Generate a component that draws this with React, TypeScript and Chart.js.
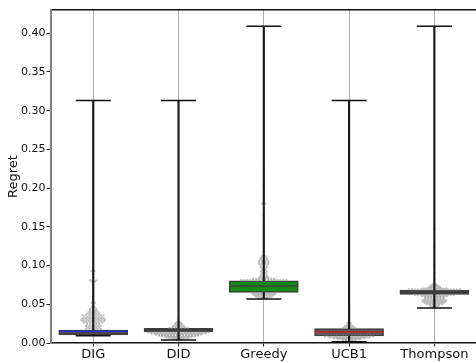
import React, { useEffect, useRef } from 'react';
import { Chart, registerables } from 'chart.js';

Chart.register(...registerables);

const categories = ['DIG', 'DID', 'Greedy', 'UCB1', 'Thompson'];
const whiskerMin = [0.0095, 0.0039, 0.0568, 0.0015, 0.0452];
const q1 = [0.0105, 0.0142, 0.0654, 0.009, 0.0628];
const median = [0.0152, 0.0165, 0.0735, 0.0142, 0.0655];
const q3 = [0.0168, 0.019, 0.0804, 0.0185, 0.0684];
const whiskerMax = [0.313, 0.313, 0.409, 0.313, 0.409];
const boxColors = ['#4a4a4a', '#3c3c3c', '#138a13', '#5a5a5a', '#333333'];
const medianColors = ['#2b2bd0', '#3f3f3f', '#3f3f3f', '#d02020', '#3f3f3f'];
const yTicks = [0, 0.05, 0.1, 0.15, 0.2, 0.25, 0.3, 0.35, 0.4];

// swarm distributions: [value, number of points at that value]
const swarmDIG: [number, number][] = [
  [0.018, 6], [0.02, 5], [0.022, 6], [0.024, 5], [0.026, 7], [0.028, 8], [0.03, 9], [0.032, 8],
  [0.034, 7], [0.036, 8], [0.038, 5], [0.04, 4], [0.042, 3], [0.044, 3], [0.046, 2], [0.049, 1],
  [0.052, 2], [0.056, 1], [0.06, 1], [0.064, 1], [0.068, 1], [0.072, 1], [0.076, 1], [0.079, 2],
  [0.081, 3], [0.085, 1], [0.089, 1], [0.093, 2], [0.098, 1], [0.104, 1], [0.23, 1],
];
const swarmDID: [number, number][] = [
  [0.0135, 21], [0.0122, 19], [0.011, 16], [0.0098, 14], [0.0086, 12], [0.0074, 9], [0.0062, 7],
  [0.005, 4], [0.0042, 2], [0.0195, 7], [0.021, 5], [0.0225, 4], [0.024, 3], [0.0255, 3],
  [0.027, 2], [0.0285, 1], [0.03, 1],
];
const swarmGreedy: [number, number][] = [
  [0.0645, 9], [0.063, 8], [0.0615, 7], [0.06, 6], [0.0585, 5], [0.0575, 3],
  [0.0815, 16], [0.083, 8], [0.0845, 4], [0.086, 3], [0.088, 3], [0.09, 2], [0.092, 3], [0.094, 2],
  [0.096, 2], [0.098, 3], [0.1, 3], [0.102, 4], [0.104, 4], [0.106, 4], [0.108, 3], [0.11, 3],
  [0.112, 2], [0.115, 1], [0.118, 1], [0.122, 1], [0.126, 1], [0.13, 1], [0.135, 1], [0.14, 1],
  [0.147, 1], [0.155, 1], [0.165, 1], [0.18, 2], [0.205, 1], [0.23, 1],
];
const swarmUCB1: [number, number][] = [
  [0.0085, 17], [0.0073, 14], [0.0061, 11], [0.005, 8], [0.004, 5], [0.003, 3],
  [0.0195, 5], [0.021, 4], [0.0225, 3], [0.024, 2], [0.026, 2], [0.029, 1], [0.032, 1],
  [0.036, 1], [0.041, 1], [0.047, 1], [0.055, 1],
];
const swarmThompson: [number, number][] = [
  [0.0692, 18], [0.0705, 9], [0.0718, 5], [0.073, 4], [0.0745, 3], [0.076, 2], [0.078, 1],
  [0.082, 1], [0.09, 1], [0.1, 1], [0.123, 1], [0.147, 1],
  [0.062, 14], [0.0605, 9], [0.059, 7], [0.0575, 7], [0.056, 8], [0.0545, 9], [0.053, 8],
  [0.0515, 7], [0.05, 6], [0.0485, 4], [0.047, 3], [0.046, 2],
];
const swarms = [swarmDIG, swarmDID, swarmGreedy, swarmUCB1, swarmThompson];

const SWARM_STEP = 0.0352; // horizontal spacing of swarm points, in category units

function expandSwarm(bins: [number, number][], idx: number) {
  const pts: { x: number; y: number }[] = [];
  bins.forEach(([v, n]) => {
    for (let k = 0; k < n; k++) {
      pts.push({ x: idx + (k - (n - 1) / 2) * SWARM_STEP, y: v });
    }
  });
  return pts;
}

const FONT = 'DejaVu Sans';

export default function App() {
  const ref = useRef<HTMLCanvasElement>(null);
  useEffect(() => {
    if (!ref.current) return;
    const swarmPoints = swarms.flatMap((b, i) => expandSwarm(b, i));
    const chart = new Chart(ref.current, {
      type: 'scatter',
      data: {
        datasets: [
          {
            type: 'bar',
            data: categories.map((_, i) => ({ x: i, y: [q3[i], whiskerMax[i]] })) as any,
            backgroundColor: '#1a1a1a',
            barThickness: 1.5,
            grouped: false,
            order: 3,
          } as any,
          {
            type: 'bar',
            data: categories.map((_, i) => ({ x: i, y: [whiskerMin[i], q1[i]] })) as any,
            backgroundColor: '#1a1a1a',
            barThickness: 1.5,
            grouped: false,
            order: 3,
          } as any,
          {
            type: 'bar',
            data: categories.map((_, i) => ({ x: i, y: [q1[i], q3[i]] })) as any,
            backgroundColor: boxColors,
            borderColor: '#3f3f3f',
            borderWidth: 1.5,
            borderSkipped: false,
            barThickness: 69,
            grouped: false,
            order: 6,
          } as any,
          {
            type: 'scatter',
            data: swarmPoints,
            pointRadius: 1.2,
            pointBackgroundColor: 'rgba(150,150,150,0.55)',
            pointBorderWidth: 0,
            order: 5,
          },
          {
            type: 'scatter',
            data: categories.map((_, i) => ({ x: i, y: median[i] })),
            pointStyle: 'line',
            pointRadius: 34,
            pointBorderColor: medianColors,
            pointBorderWidth: 1.5,
            order: 4,
          },
          {
            type: 'scatter',
            data: [
              ...categories.map((_, i) => ({ x: i, y: whiskerMax[i] })),
              ...categories.map((_, i) => ({ x: i, y: whiskerMin[i] })),
            ],
            pointStyle: 'line',
            pointRadius: 17.5,
            pointBorderColor: '#111111',
            pointBorderWidth: 1.5,
            order: 1,
          },
        ],
      },
      options: {
        animation: false,
        responsive: false,
        events: [],
        layout: { autoPadding: false, padding: { top: 10, right: 3, bottom: 0, left: 0 } },
        plugins: { legend: { display: false }, tooltip: { enabled: false } },
        scales: {
          x: {
            type: 'linear',
            min: -0.5,
            max: 4.5,
            offset: false,
            afterFit: (s: any) => { s.height = 20; },
            afterBuildTicks: (s: any) => { s.ticks = categories.map((_, i) => ({ value: i })); },
            ticks: {
              autoSkip: false,
              maxRotation: 0,
              padding: 0,
              color: '#111',
              font: { family: FONT, size: 13 },
              callback: (v: any) => categories[Math.round(v)] ?? '',
            },
            grid: {
              offset: false,
              color: '#b0b0b0',
              tickColor: '#222',
              tickLength: 3.5,
              lineWidth: 1,
            },
            border: { color: '#111', width: 1.5 },
          },
          xTop: {
            type: 'linear',
            position: 'top',
            min: -0.5,
            max: 4.5,
            afterFit: (s: any) => { s.height = 0; },
            ticks: { display: false },
            grid: { drawOnChartArea: false, drawTicks: false },
            border: { color: '#111', width: 1.5 },
          },
          y: {
            type: 'linear',
            min: 0,
            max: 0.43,
            afterFit: (s: any) => { s.width = 50.6; },
            afterBuildTicks: (s: any) => { s.ticks = yTicks.map((v) => ({ value: v })); },
            ticks: {
              padding: 1,
              color: '#111',
              font: { family: FONT, size: 11 },
              callback: (v: any) => Number(v).toFixed(2),
            },
            grid: { drawOnChartArea: false, tickLength: 4, tickColor: '#222' },
            border: { color: '#808080', width: 2 },
            title: {
              display: true,
              text: 'Regret',
              color: '#111',
              font: { family: FONT, size: 13 },
              padding: { top: 6, bottom: 0 },
            },
          },
        },
      } as any,
    });
    return () => chart.destroy();
  }, []);
  return (
    <div style={{ position: 'fixed', left: 0, top: 0, width: 480, height: 363 }}>
      <canvas ref={ref} width={480} height={363} />
    </div>
  );
}
